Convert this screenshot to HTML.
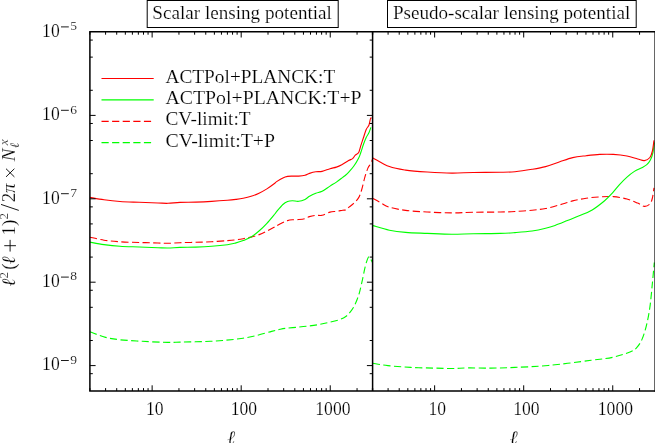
<!DOCTYPE html>
<html><head><meta charset="utf-8"><title>Lensing potential noise</title>
<style>html,body{margin:0;padding:0;background:#fff;}svg{display:block;will-change:transform;}text{font-family:"Liberation Serif",serif;fill:#000;stroke:#fff;stroke-width:0.18px;}</style></head><body>
<svg width="655" height="443" viewBox="0 0 655 443">
<rect width="655" height="443" fill="#fff"/>
<path d="M90.00,331.70 C91.17,332.17 94.40,333.55 97.00,334.50 C99.60,335.45 101.88,336.53 105.60,337.40 C109.32,338.27 113.20,339.05 119.30,339.70 C125.40,340.35 134.18,340.85 142.20,341.30 C150.22,341.75 161.10,342.27 167.40,342.40 C173.70,342.53 175.35,342.20 180.00,342.10 C184.65,342.00 190.22,341.93 195.30,341.80 C200.38,341.67 205.42,341.57 210.50,341.30 C215.58,341.03 220.70,340.67 225.80,340.20 C230.90,339.73 236.02,339.27 241.10,338.50 C246.18,337.73 251.22,336.78 256.30,335.60 C261.38,334.42 267.65,332.45 271.60,331.40 C275.55,330.35 277.65,329.82 280.00,329.30 C282.35,328.78 282.95,328.63 285.70,328.30 C288.45,327.97 292.92,327.65 296.50,327.30 C300.08,326.95 303.63,326.63 307.20,326.20 C310.77,325.77 314.33,325.32 317.90,324.70 C321.47,324.08 325.02,323.33 328.60,322.50 C332.18,321.67 336.53,320.70 339.40,319.70 C342.27,318.70 344.02,317.75 345.80,316.50 C347.58,315.25 348.67,313.98 350.10,312.20 C351.53,310.42 352.97,308.65 354.40,305.80 C355.83,302.95 357.45,299.03 358.70,295.10 C359.95,291.17 360.83,286.85 361.90,282.20 C362.97,277.55 364.13,271.13 365.10,267.20 C366.07,263.27 366.98,260.32 367.70,258.60 C368.42,256.88 368.75,256.55 369.40,256.90 C370.05,257.25 371.08,259.77 371.60,260.70 C372.12,261.63 372.35,262.20 372.50,262.50" fill="none" stroke="#00ff00" stroke-width="1.12" stroke-dasharray="7.2 3.4" stroke-linejoin="round"/>
<path d="M90.00,237.20 C92.33,237.70 99.00,239.43 104.00,240.20 C109.00,240.97 114.13,241.42 120.00,241.80 C125.87,242.18 132.87,242.30 139.20,242.50 C145.53,242.70 153.20,242.87 158.00,243.00 C162.80,243.13 164.33,243.35 168.00,243.30 C171.67,243.25 175.37,242.87 180.00,242.70 C184.63,242.53 190.53,242.47 195.80,242.30 C201.07,242.13 206.33,241.98 211.60,241.70 C216.87,241.42 223.33,240.92 227.40,240.60 C231.47,240.28 233.37,240.12 236.00,239.80 C238.63,239.48 240.68,239.15 243.20,238.70 C245.72,238.25 248.43,237.78 251.10,237.10 C253.77,236.42 256.57,235.58 259.20,234.60 C261.83,233.62 264.30,232.48 266.90,231.20 C269.50,229.92 273.18,227.80 274.80,226.90 C276.42,226.00 275.25,226.52 276.60,225.80 C277.95,225.08 281.07,223.47 282.90,222.60 C284.73,221.73 286.02,221.07 287.60,220.60 C289.18,220.13 290.55,219.98 292.40,219.80 C294.25,219.62 296.60,219.70 298.70,219.50 C300.80,219.30 303.20,219.08 305.00,218.60 C306.80,218.12 307.70,217.15 309.50,216.60 C311.30,216.05 313.70,215.52 315.80,215.30 C317.90,215.08 319.73,215.83 322.10,215.30 C324.47,214.77 327.62,212.77 330.00,212.10 C332.38,211.43 334.28,211.62 336.40,211.30 C338.52,210.98 341.13,210.45 342.70,210.20 C344.27,209.95 344.75,210.32 345.80,209.80 C346.85,209.28 347.68,208.17 349.00,207.10 C350.32,206.03 352.12,204.93 353.70,203.40 C355.28,201.87 357.18,200.13 358.50,197.90 C359.82,195.67 360.55,193.42 361.60,190.00 C362.65,186.58 363.73,181.08 364.80,177.40 C365.87,173.72 367.05,170.13 368.00,167.90 C368.95,165.67 369.75,165.45 370.50,164.00 C371.25,162.55 372.17,160.00 372.50,159.20" fill="none" stroke="#ff0000" stroke-width="1.12" stroke-dasharray="7.2 3.4" stroke-linejoin="round"/>
<path d="M90.00,242.10 C92.33,242.52 99.00,243.90 104.00,244.60 C109.00,245.30 114.13,245.90 120.00,246.30 C125.87,246.70 132.87,246.77 139.20,247.00 C145.53,247.23 153.20,247.53 158.00,247.70 C162.80,247.87 164.33,248.05 168.00,248.00 C171.67,247.95 175.37,247.55 180.00,247.40 C184.63,247.25 190.53,247.28 195.80,247.10 C201.07,246.92 206.33,246.70 211.60,246.30 C216.87,245.90 223.45,245.23 227.40,244.70 C231.35,244.17 232.67,243.78 235.30,243.10 C237.93,242.42 240.57,241.62 243.20,240.60 C245.83,239.58 248.47,238.60 251.10,237.00 C253.73,235.40 256.37,233.28 259.00,231.00 C261.63,228.72 264.27,226.13 266.90,223.30 C269.53,220.47 273.18,215.95 274.80,214.00 C276.42,212.05 275.25,213.18 276.60,211.60 C277.95,210.02 281.07,206.17 282.90,204.50 C284.73,202.83 286.02,202.22 287.60,201.60 C289.18,200.98 290.55,200.85 292.40,200.80 C294.25,200.75 296.60,201.53 298.70,201.30 C300.80,201.07 303.20,200.23 305.00,199.40 C306.80,198.57 307.70,197.33 309.50,196.30 C311.30,195.27 313.70,194.03 315.80,193.20 C317.90,192.37 319.73,192.48 322.10,191.30 C324.47,190.12 327.62,187.63 330.00,186.10 C332.38,184.57 334.28,183.55 336.40,182.10 C338.52,180.65 341.13,178.58 342.70,177.40 C344.27,176.22 344.75,175.93 345.80,175.00 C346.85,174.07 347.68,173.25 349.00,171.80 C350.32,170.35 352.08,168.62 353.70,166.30 C355.32,163.98 357.52,160.20 358.70,157.90 C359.88,155.60 360.00,154.77 360.80,152.50 C361.60,150.23 362.60,146.80 363.50,144.30 C364.40,141.80 365.30,139.42 366.20,137.50 C367.10,135.58 368.12,134.48 368.90,132.80 C369.68,131.12 370.57,128.30 370.90,127.40" fill="none" stroke="#00ff00" stroke-width="1.12" stroke-linejoin="round"/>
<path d="M90.00,197.40 C92.33,197.80 99.00,199.12 104.00,199.80 C109.00,200.48 114.13,201.08 120.00,201.50 C125.87,201.92 132.87,202.05 139.20,202.30 C145.53,202.55 153.20,202.83 158.00,203.00 C162.80,203.17 164.33,203.40 168.00,203.30 C171.67,203.20 175.37,202.60 180.00,202.40 C184.63,202.20 190.53,202.27 195.80,202.10 C201.07,201.93 206.33,201.70 211.60,201.40 C216.87,201.10 223.33,200.63 227.40,200.30 C231.47,199.97 233.37,199.73 236.00,199.40 C238.63,199.07 240.68,198.82 243.20,198.30 C245.72,197.78 248.47,197.15 251.10,196.30 C253.73,195.45 256.37,194.43 259.00,193.20 C261.63,191.97 264.27,190.55 266.90,188.90 C269.53,187.25 273.18,184.52 274.80,183.30 C276.42,182.08 275.25,182.50 276.60,181.60 C277.95,180.70 281.07,178.77 282.90,177.90 C284.73,177.03 286.02,176.70 287.60,176.40 C289.18,176.10 290.55,176.15 292.40,176.10 C294.25,176.05 296.60,176.23 298.70,176.10 C300.80,175.97 303.20,175.75 305.00,175.30 C306.80,174.85 307.70,173.98 309.50,173.40 C311.30,172.82 313.70,172.13 315.80,171.80 C317.90,171.47 319.73,171.92 322.10,171.40 C324.47,170.88 327.62,169.42 330.00,168.70 C332.38,167.98 334.43,167.77 336.40,167.10 C338.37,166.43 339.77,165.78 341.80,164.70 C343.83,163.62 346.80,161.62 348.60,160.60 C350.40,159.58 351.48,159.50 352.60,158.60 C353.72,157.70 354.28,156.22 355.30,155.20 C356.32,154.18 357.78,154.08 358.70,152.50 C359.62,150.92 360.00,148.20 360.80,145.70 C361.60,143.20 362.60,140.22 363.50,137.50 C364.40,134.78 365.30,131.43 366.20,129.40 C367.10,127.37 368.18,127.10 368.90,125.30 C369.62,123.50 370.05,119.83 370.50,118.60 C370.95,117.37 371.42,118.02 371.60,117.90" fill="none" stroke="#ff0000" stroke-width="1.12" stroke-linejoin="round"/>
<path d="M373.00,363.30 C375.48,363.68 381.60,364.92 387.90,365.60 C394.20,366.28 403.17,366.98 410.80,367.40 C418.43,367.82 426.83,367.92 433.70,368.10 C440.57,368.28 446.28,368.53 452.00,368.50 C457.72,368.47 461.52,367.97 468.00,367.90 C474.48,367.83 483.07,368.18 490.90,368.10 C498.73,368.02 505.47,367.83 515.00,367.40 C524.53,366.97 535.40,366.68 548.10,365.50 C560.80,364.32 580.42,361.67 591.20,360.30 C601.98,358.93 606.33,358.70 612.80,357.30 C619.27,355.90 626.05,353.47 630.00,351.90 C633.95,350.33 634.47,350.07 636.50,347.90 C638.53,345.73 640.50,342.83 642.20,338.90 C643.90,334.97 645.40,329.73 646.70,324.30 C648.00,318.87 649.05,313.18 650.00,306.30 C650.95,299.42 651.68,290.30 652.40,283.00 C653.12,275.70 653.98,265.92 654.30,262.50" fill="none" stroke="#00ff00" stroke-width="1.12" stroke-dasharray="7.2 3.4" stroke-linejoin="round"/>
<path d="M373.00,198.50 C374.37,199.27 378.47,201.65 381.20,203.10 C383.93,204.55 385.33,205.98 389.40,207.20 C393.47,208.42 399.28,209.60 405.60,210.40 C411.92,211.20 419.62,211.58 427.30,212.00 C434.98,212.42 444.03,212.85 451.70,212.90 C459.37,212.95 465.18,212.45 473.30,212.30 C481.42,212.15 493.45,212.13 500.40,212.00 C507.35,211.87 509.72,211.80 515.00,211.50 C520.28,211.20 527.00,210.70 532.10,210.20 C537.20,209.70 541.08,209.37 545.60,208.50 C550.12,207.63 554.68,206.27 559.20,205.00 C563.72,203.73 568.20,202.03 572.70,200.90 C577.20,199.77 581.68,198.87 586.20,198.20 C590.72,197.53 595.28,197.17 599.80,196.90 C604.32,196.63 608.78,196.25 613.30,196.60 C617.82,196.95 622.83,197.92 626.90,199.00 C630.97,200.08 634.78,201.87 637.70,203.10 C640.62,204.33 642.37,206.25 644.40,206.40 C646.43,206.55 648.57,205.40 649.90,204.00 C651.23,202.60 651.72,200.70 652.40,198.00 C653.08,195.30 653.73,189.50 654.00,187.80" fill="none" stroke="#ff0000" stroke-width="1.12" stroke-dasharray="7.2 3.4" stroke-linejoin="round"/>
<path d="M373.00,225.60 C375.73,226.37 383.97,229.07 389.40,230.20 C394.83,231.33 399.28,231.87 405.60,232.40 C411.92,232.93 419.62,233.08 427.30,233.40 C434.98,233.72 444.03,234.25 451.70,234.30 C459.37,234.35 465.18,233.85 473.30,233.70 C481.42,233.55 493.45,233.58 500.40,233.40 C507.35,233.22 509.72,233.00 515.00,232.60 C520.28,232.20 527.00,231.72 532.10,231.00 C537.20,230.28 541.78,229.22 545.60,228.30 C549.42,227.38 551.37,226.78 555.00,225.50 C558.63,224.22 563.27,222.25 567.40,220.60 C571.53,218.95 575.67,217.38 579.80,215.60 C583.93,213.82 588.07,212.38 592.20,209.90 C596.33,207.42 601.28,203.47 604.60,200.70 C607.92,197.93 609.62,195.98 612.10,193.30 C614.58,190.62 617.02,187.30 619.50,184.60 C621.98,181.90 624.52,179.30 627.00,177.10 C629.48,174.90 631.93,172.97 634.40,171.40 C636.87,169.83 639.73,168.82 641.80,167.70 C643.87,166.58 645.35,166.02 646.80,164.70 C648.25,163.38 649.47,161.87 650.50,159.80 C651.53,157.73 652.37,155.20 653.00,152.30 C653.63,149.40 654.08,144.05 654.30,142.40" fill="none" stroke="#00ff00" stroke-width="1.12" stroke-linejoin="round"/>
<path d="M373.00,157.90 C375.73,159.35 383.97,164.57 389.40,166.60 C394.83,168.63 399.28,169.20 405.60,170.10 C411.92,171.00 419.62,171.50 427.30,172.00 C434.98,172.50 444.03,173.02 451.70,173.10 C459.37,173.18 465.18,172.63 473.30,172.50 C481.42,172.37 493.45,172.43 500.40,172.30 C507.35,172.17 509.72,172.20 515.00,171.70 C520.28,171.20 527.00,170.15 532.10,169.30 C537.20,168.45 541.08,167.82 545.60,166.60 C550.12,165.38 554.68,163.50 559.20,162.00 C563.72,160.50 568.20,158.65 572.70,157.60 C577.20,156.55 581.68,156.23 586.20,155.70 C590.72,155.17 595.28,154.62 599.80,154.40 C604.32,154.18 608.78,154.13 613.30,154.40 C617.82,154.67 622.83,155.23 626.90,156.00 C630.97,156.77 634.78,158.23 637.70,159.00 C640.62,159.77 642.37,160.85 644.40,160.60 C646.43,160.35 648.57,159.10 649.90,157.50 C651.23,155.90 651.72,153.87 652.40,151.00 C653.08,148.13 653.73,142.08 654.00,140.30" fill="none" stroke="#ff0000" stroke-width="1.12" stroke-linejoin="round"/>
<path d="M89.90,391.00 v-2.90 M89.90,31.80 v2.90 M105.58,391.00 v-2.90 M105.58,31.80 v2.90 M116.71,391.00 v-2.90 M116.71,31.80 v2.90 M125.34,391.00 v-2.90 M125.34,31.80 v2.90 M132.39,391.00 v-2.90 M132.39,31.80 v2.90 M138.35,391.00 v-2.90 M138.35,31.80 v2.90 M143.51,391.00 v-2.90 M143.51,31.80 v2.90 M148.07,391.00 v-2.90 M148.07,31.80 v2.90 M152.14,391.00 v-5.70 M152.14,31.80 v5.70 M178.95,391.00 v-2.90 M178.95,31.80 v2.90 M194.63,391.00 v-2.90 M194.63,31.80 v2.90 M205.76,391.00 v-2.90 M205.76,31.80 v2.90 M214.39,391.00 v-2.90 M214.39,31.80 v2.90 M221.44,391.00 v-2.90 M221.44,31.80 v2.90 M227.40,391.00 v-2.90 M227.40,31.80 v2.90 M232.56,391.00 v-2.90 M232.56,31.80 v2.90 M237.12,391.00 v-2.90 M237.12,31.80 v2.90 M241.19,391.00 v-5.70 M241.19,31.80 v5.70 M268.00,391.00 v-2.90 M268.00,31.80 v2.90 M283.68,391.00 v-2.90 M283.68,31.80 v2.90 M294.81,391.00 v-2.90 M294.81,31.80 v2.90 M303.44,391.00 v-2.90 M303.44,31.80 v2.90 M310.49,391.00 v-2.90 M310.49,31.80 v2.90 M316.45,391.00 v-2.90 M316.45,31.80 v2.90 M321.61,391.00 v-2.90 M321.61,31.80 v2.90 M326.17,391.00 v-2.90 M326.17,31.80 v2.90 M330.24,391.00 v-5.70 M330.24,31.80 v5.70 M357.05,391.00 v-2.90 M357.05,31.80 v2.90 M372.73,391.00 v-2.90 M372.73,31.80 v2.90 M372.40,391.00 v-2.90 M372.40,31.80 v2.90 M388.08,391.00 v-2.90 M388.08,31.80 v2.90 M399.21,391.00 v-2.90 M399.21,31.80 v2.90 M407.84,391.00 v-2.90 M407.84,31.80 v2.90 M414.89,391.00 v-2.90 M414.89,31.80 v2.90 M420.85,391.00 v-2.90 M420.85,31.80 v2.90 M426.01,391.00 v-2.90 M426.01,31.80 v2.90 M430.57,391.00 v-2.90 M430.57,31.80 v2.90 M434.64,391.00 v-5.70 M434.64,31.80 v5.70 M461.45,391.00 v-2.90 M461.45,31.80 v2.90 M477.13,391.00 v-2.90 M477.13,31.80 v2.90 M488.26,391.00 v-2.90 M488.26,31.80 v2.90 M496.89,391.00 v-2.90 M496.89,31.80 v2.90 M503.94,391.00 v-2.90 M503.94,31.80 v2.90 M509.90,391.00 v-2.90 M509.90,31.80 v2.90 M515.06,391.00 v-2.90 M515.06,31.80 v2.90 M519.62,391.00 v-2.90 M519.62,31.80 v2.90 M523.69,391.00 v-5.70 M523.69,31.80 v5.70 M550.50,391.00 v-2.90 M550.50,31.80 v2.90 M566.18,391.00 v-2.90 M566.18,31.80 v2.90 M577.31,391.00 v-2.90 M577.31,31.80 v2.90 M585.94,391.00 v-2.90 M585.94,31.80 v2.90 M592.99,391.00 v-2.90 M592.99,31.80 v2.90 M598.95,391.00 v-2.90 M598.95,31.80 v2.90 M604.11,391.00 v-2.90 M604.11,31.80 v2.90 M608.67,391.00 v-2.90 M608.67,31.80 v2.90 M612.74,391.00 v-5.70 M612.74,31.80 v5.70 M639.55,391.00 v-2.90 M639.55,31.80 v2.90 M89.90,373.68 h2.90 M372.60,373.68 h-2.90 M89.90,365.60 h5.70 M372.60,365.60 h-5.70 M89.90,340.49 h2.90 M372.60,340.49 h-2.90 M89.90,307.31 h2.90 M372.60,307.31 h-2.90 M89.90,290.28 h2.90 M372.60,290.28 h-2.90 M89.90,282.20 h5.70 M372.60,282.20 h-5.70 M89.90,257.09 h2.90 M372.60,257.09 h-2.90 M89.90,223.91 h2.90 M372.60,223.91 h-2.90 M89.90,206.88 h2.90 M372.60,206.88 h-2.90 M89.90,198.80 h5.70 M372.60,198.80 h-5.70 M89.90,173.69 h2.90 M372.60,173.69 h-2.90 M89.90,140.51 h2.90 M372.60,140.51 h-2.90 M89.90,123.48 h2.90 M372.60,123.48 h-2.90 M89.90,115.40 h5.70 M372.60,115.40 h-5.70 M89.90,90.29 h2.90 M372.60,90.29 h-2.90 M89.90,57.11 h2.90 M372.60,57.11 h-2.90 M89.90,40.08 h2.90 M372.60,40.08 h-2.90" stroke="#000" stroke-width="1" fill="none"/>
<path d="M89.90,31.80 H654.50 M89.90,391.00 H654.50 M89.90,31.80 V391.00 M372.60,31.80 V391.00" stroke="#000" stroke-width="1.5" fill="none" stroke-linecap="square"/>
<rect x="654.4" y="31.10" width="2" height="360.60" fill="#000"/>
<rect x="147.2" y="0.5" width="191" height="27" fill="#fff" stroke="#000" stroke-width="1"/>
<rect x="387.5" y="0.5" width="248.7" height="27" fill="#fff" stroke="#000" stroke-width="1"/>
<text x="152.3" y="19.0" font-size="19.0" textLength="179.6" lengthAdjust="spacingAndGlyphs">Scalar lensing potential</text>
<text x="393.0" y="19.0" font-size="19.0" textLength="237.2" lengthAdjust="spacingAndGlyphs">Pseudo-scalar lensing potential</text>
<path d="M101.5,78.50 H153.7" stroke="#ff0000" stroke-width="1.12" fill="none"/>
<path d="M101.5,99.90 H153.7" stroke="#00ff00" stroke-width="1.12" fill="none"/>
<path d="M101.5,121.40 H153.7" stroke="#ff0000" stroke-width="1.12" stroke-dasharray="7.2 3.4" fill="none"/>
<path d="M101.5,142.60 H153.7" stroke="#00ff00" stroke-width="1.12" stroke-dasharray="7.2 3.4" fill="none"/>
<text x="165.5" y="82.6" font-size="18.2" textLength="169.7" lengthAdjust="spacingAndGlyphs">ACTPol+PLANCK:T</text>
<text x="165.5" y="104.1" font-size="18.2" textLength="196.1" lengthAdjust="spacingAndGlyphs">ACTPol+PLANCK:T+P</text>
<text x="165.5" y="125.4" font-size="18.2" textLength="85.1" lengthAdjust="spacingAndGlyphs">CV-limit:T</text>
<text x="165.5" y="147.0" font-size="18.2" textLength="109.5" lengthAdjust="spacingAndGlyphs">CV-limit:T+P</text>
<text x="42.1" y="370.4" font-size="18.3" textLength="17.6" lengthAdjust="spacingAndGlyphs">10</text>
<path d="M61,360.50 H68.8" stroke="#000" stroke-width="0.9"/>
<text x="70.3" y="363.7" font-size="13.5">9</text>
<text x="42.1" y="287.0" font-size="18.3" textLength="17.6" lengthAdjust="spacingAndGlyphs">10</text>
<path d="M61,277.10 H68.8" stroke="#000" stroke-width="0.9"/>
<text x="70.3" y="280.3" font-size="13.5">8</text>
<text x="42.1" y="203.6" font-size="18.3" textLength="17.6" lengthAdjust="spacingAndGlyphs">10</text>
<path d="M61,193.70 H68.8" stroke="#000" stroke-width="0.9"/>
<text x="70.3" y="196.9" font-size="13.5">7</text>
<text x="42.1" y="120.2" font-size="18.3" textLength="17.6" lengthAdjust="spacingAndGlyphs">10</text>
<path d="M61,110.30 H68.8" stroke="#000" stroke-width="0.9"/>
<text x="70.3" y="113.5" font-size="13.5">6</text>
<text x="42.1" y="36.8" font-size="18.3" textLength="17.6" lengthAdjust="spacingAndGlyphs">10</text>
<path d="M61,26.90 H68.8" stroke="#000" stroke-width="0.9"/>
<text x="70.3" y="30.1" font-size="13.5">5</text>
<text x="154.8" y="415.3" font-size="18.3" text-anchor="middle" textLength="17.6" lengthAdjust="spacingAndGlyphs">10</text>
<text x="243.9" y="415.3" font-size="18.3" text-anchor="middle" textLength="26.4" lengthAdjust="spacingAndGlyphs">100</text>
<text x="332.9" y="415.3" font-size="18.3" text-anchor="middle" textLength="35.2" lengthAdjust="spacingAndGlyphs">1000</text>
<text x="231.2" y="443.6" font-size="19" font-style="italic" text-anchor="middle">ℓ</text>
<text x="437.3" y="415.3" font-size="18.3" text-anchor="middle" textLength="17.6" lengthAdjust="spacingAndGlyphs">10</text>
<text x="526.4" y="415.3" font-size="18.3" text-anchor="middle" textLength="26.4" lengthAdjust="spacingAndGlyphs">100</text>
<text x="615.4" y="415.3" font-size="18.3" text-anchor="middle" textLength="35.2" lengthAdjust="spacingAndGlyphs">1000</text>
<text x="513.7" y="443.6" font-size="19" font-style="italic" text-anchor="middle">ℓ</text>
<g transform="translate(14.9,286.1) rotate(-90)"><text x="-0.40" y="0.00" font-size="19.0" font-style="italic">ℓ</text><text x="7.70" y="-6.80" font-size="13.0">2</text><text x="16.30" y="0.00" font-size="19.0">(</text><text x="21.80" y="0.00" font-size="19.0" font-style="italic">ℓ</text><path d="M34.55,-4.8 H46.25 M40.4,-10.65 V1.05" stroke="#000" stroke-width="0.9" fill="none"/><text x="50.50" y="0.00" font-size="19.0">1</text><text x="60.10" y="0.00" font-size="19.0">)</text><text x="66.50" y="-6.80" font-size="13.0">2</text><path d="M75.7,3.9 L81.7,-13.9" stroke="#000" stroke-width="0.9" fill="none"/><text x="83.80" y="0.00" font-size="19.0">2</text><text x="93.10" y="0.00" font-size="19.0" font-style="italic">π</text><path d="M109.2,-0.5 L117.4,-8.9 M109.2,-8.9 L117.4,-0.5" stroke="#000" stroke-width="0.9" fill="none"/><text x="124.90" y="0.00" font-size="19.0" font-style="italic">N</text><text x="140.90" y="-6.80" font-size="13.5" font-style="italic">x</text><text x="138.00" y="4.50" font-size="13.0" font-style="italic">ℓ</text></g>
</svg></body></html>
